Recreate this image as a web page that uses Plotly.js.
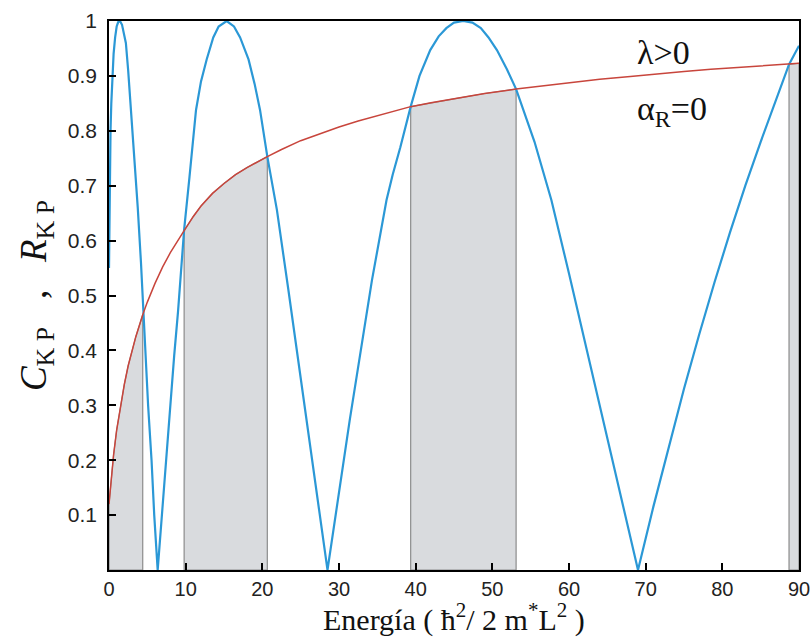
<!DOCTYPE html>
<html>
<head>
<meta charset="utf-8">
<script src="https://cdn.plot.ly/plotly-3.0.1.min.js"></script>
<style>html,body{margin:0;padding:0;background:#fff;}#chart{width:812px;height:641px;}</style>
</head>
<body>
<div id="chart"></div>
<script>
// Blue curve C_KP (energy, value)
const blueE = [0, 0.05, 0.1, 0.2, 0.3, 0.45, 0.6, 0.8, 1.0, 1.2, 1.43, 1.7, 2.0, 2.2, 2.5, 2.87, 3.3, 3.75, 4.17, 4.4, 4.7, 5.1, 5.55, 5.9, 6.35,
  7.0, 7.5, 8.0, 8.5, 9.0, 9.4, 9.8, 10.5, 11.35, 12.0, 12.74, 13.6, 14.3, 15.35, 16.3, 17.1, 18.2, 19.0, 19.7, 20.65, 21.9, 23.4,
  25.0, 27.0, 28.5, 31.4, 34.3, 36.2, 37.0, 38.0, 39.35, 40.5, 41.9, 43.0, 44.0, 45.0, 46.2, 47.4, 48.5, 49.5, 50.6, 51.9, 53.1, 55.5, 57.7,
  60.0, 62.0, 64.0, 66.0, 68.0, 69.0, 71.0, 73.0, 75.0, 77.0, 79.0, 81.0, 83.0, 85.0, 87.0, 88.7, 90.0];
const blueC = [0.55, 0.65, 0.72, 0.80, 0.85, 0.90, 0.94, 0.97, 0.99, 0.998, 1.0, 0.993, 0.975, 0.96, 0.91, 0.84, 0.75, 0.66, 0.56, 0.49, 0.40, 0.30, 0.20, 0.10, 0.0,
  0.12, 0.21, 0.30, 0.39, 0.47, 0.54, 0.62, 0.716, 0.838, 0.89, 0.93, 0.97, 0.99, 1.0, 0.99, 0.97, 0.93, 0.885, 0.838, 0.753, 0.656, 0.51,
  0.35, 0.15, 0.0, 0.273, 0.528, 0.674, 0.72, 0.77, 0.844, 0.90, 0.947, 0.972, 0.987, 0.997, 1.0, 0.997, 0.987, 0.97, 0.947, 0.912, 0.876, 0.78, 0.674,
  0.54, 0.42, 0.30, 0.18, 0.06, 0.0, 0.115, 0.225, 0.33, 0.43, 0.525, 0.615, 0.70, 0.78, 0.855, 0.921, 0.955];

// Red curve R_KP (energy, value)
const redE = [0, 0.15, 0.3, 0.6, 1.0, 1.5, 2.0, 2.5, 3.0, 3.5, 4.4, 5.0, 6.0, 7.0, 8.0, 9.0, 9.8, 11.0, 12.0, 13.5, 15.0, 16.5, 18.0, 20.65,
  22.5, 25.0, 27.5, 30.0, 32.5, 35.0, 39.35, 42.0, 45.0, 49.0, 53.1, 56.5, 60.0, 64.0, 68.0, 71.5, 75.0, 78.5, 82.0, 85.5, 88.7, 90.0];
const redR = [0.12, 0.145, 0.17, 0.21, 0.255, 0.30, 0.338, 0.372, 0.40, 0.425, 0.465, 0.488, 0.522, 0.552, 0.578, 0.601, 0.618, 0.644, 0.663, 0.686, 0.704, 0.72, 0.733, 0.753,
  0.766, 0.782, 0.795, 0.807, 0.818, 0.828, 0.844, 0.851, 0.858, 0.868, 0.876, 0.882, 0.888, 0.894, 0.899, 0.904, 0.908, 0.912, 0.915, 0.918, 0.921, 0.923];

// Allowed bands (shaded), energy limits
const bandStart = [0, 9.8, 39.35, 88.7];
const bandEnd = [4.4, 20.65, 53.1, 90.0];

const xTicks = [0, 10, 20, 30, 40, 50, 60, 70, 80, 90];
const yTicks = [0.1, 0.2, 0.3, 0.4, 0.5, 0.6, 0.7, 0.8, 0.9, 1];
const yTickText = ['0.1', '0.2', '0.3', '0.4', '0.5', '0.6', '0.7', '0.8', '0.9', '1'];

const traces = [];
for (let b = 0; b < bandStart.length; b++) {
  const xs = [], ys = [];
  for (let i = 0; i < redE.length; i++) {
    if (redE[i] >= bandStart[b] - 1e-9 && redE[i] <= bandEnd[b] + 1e-9) { xs.push(redE[i]); ys.push(redR[i]); }
  }
  xs.push(bandEnd[b]); ys.push(0);
  xs.push(bandStart[b]); ys.push(0);
  xs.push(xs[0]); ys.push(ys[0]);
  traces.push({x: xs, y: ys, type: 'scatter', mode: 'lines', fill: 'toself',
    fillcolor: '#d9dbde', line: {color: '#8c8c8c', width: 1.2}, hoverinfo: 'skip', showlegend: false});
}
traces.push({x: blueE, y: blueC, type: 'scatter', mode: 'lines', line: {color: '#2b98d6', width: 2.2}, showlegend: false, name: 'C_KP'});
traces.push({x: redE, y: redR, type: 'scatter', mode: 'lines', line: {color: '#c8453c', width: 1.5}, showlegend: false, name: 'R_KP'});

const serif = '"Liberation Serif", "Times New Roman", serif';
const layout = {
  width: 812, height: 641,
  margin: {l: 109, r: 13, t: 21, b: 71},
  paper_bgcolor: '#ffffff', plot_bgcolor: '#ffffff',
  showlegend: false,
  xaxis: {
    range: [0, 90], tickvals: xTicks, ticks: 'inside', ticklen: 7, tickcolor: '#000', tickwidth: 1.5,
    showline: true, linecolor: '#000', linewidth: 1.5, mirror: true,
    showgrid: false, zeroline: false, ticklabeloverflow: 'allow', ticklabelstandoff: 0,
    tickfont: {family: '"Liberation Sans", Arial, sans-serif', size: 20, color: '#222'}
  },
  yaxis: {
    range: [0, 1], tickvals: yTicks, ticktext: yTickText, ticks: 'inside', ticklen: 7, tickcolor: '#000', tickwidth: 1.5,
    showline: true, linecolor: '#000', linewidth: 1.5, mirror: true,
    showgrid: false, zeroline: false, ticklabelstandoff: 6,
    tickfont: {family: '"Liberation Sans", Arial, sans-serif', size: 21, color: '#222'},
    title: {text: '<i>C</i><sub>K P</sub>   ,   <i>R</i><sub>K P</sub>', font: {family: serif, size: 37, color: '#111'}, standoff: 10}
  },
  annotations: [
    {text: 'Energía ( ħ<sup>2</sup>/ 2 m<sup>*</sup>L<sup>2</sup> )', xref: 'paper', yref: 'paper', x: 0.5, y: -0.086,
      xanchor: 'center', yanchor: 'middle', showarrow: false, font: {family: serif, size: 30, color: '#111'}},
    {text: 'λ>0', xref: 'paper', yref: 'paper', x: 0.762, y: 0.942, xanchor: 'left', yanchor: 'middle', showarrow: false,
      font: {family: serif, size: 34, color: '#111'}},
    {text: 'α<sub>R</sub>=0', xref: 'paper', yref: 'paper', x: 0.762, y: 0.836, xanchor: 'left', yanchor: 'middle', showarrow: false,
      font: {family: serif, size: 34, color: '#111'}}
  ]
};

Plotly.newPlot('chart', traces, layout, {displayModeBar: false});
</script>
</body>
</html>
